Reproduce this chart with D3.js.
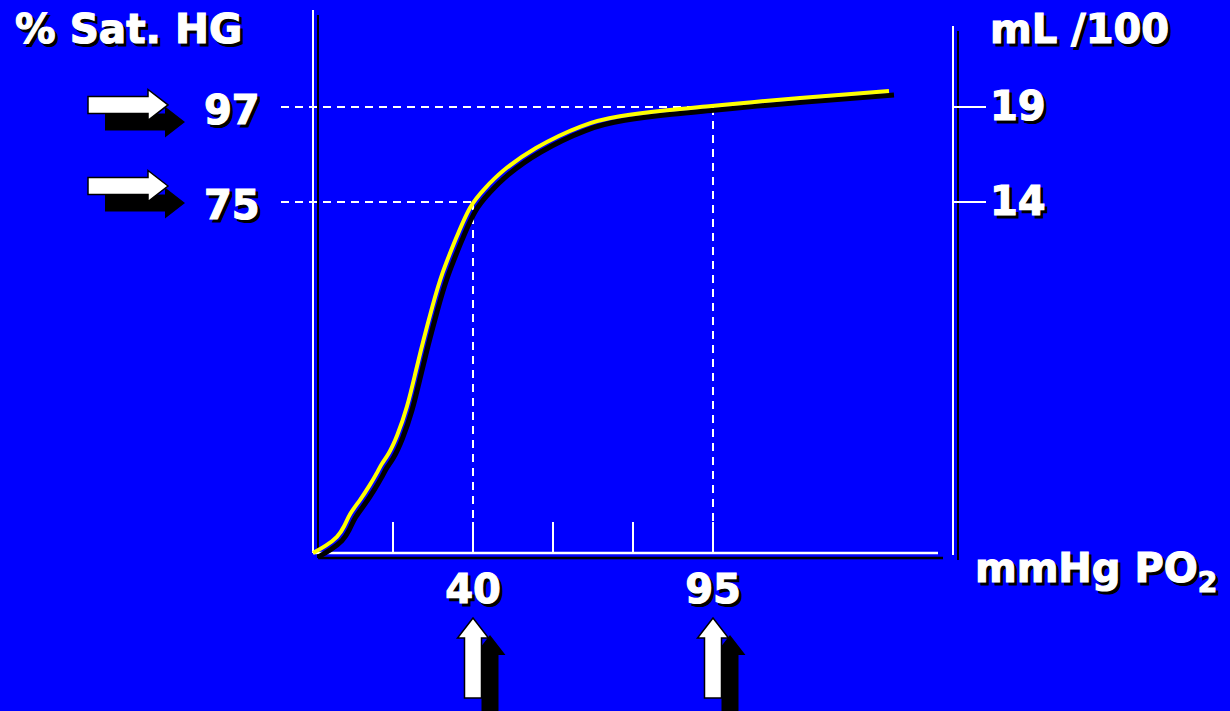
<!DOCTYPE html>
<html lang="en">
    <head>
        <meta charset="utf-8">
        <title>Courbe de dissociation HbO2</title>
        <script type="text/javascript" src="https://d3js.org/d3.v7.min.js"></script>
        <style type="text/css">
            body { margin: 0; background: #0000ff; }
            text {
                font-family: "DejaVu Sans", sans-serif;
                font-weight: bold;
                stroke-width: 1.2px;
            }
        </style>
    </head>
    <body>
        <script type="text/javascript">

        // Size
        var w = 1230;
        var h = 711;

        // Data: PO2 in grid units (one unit per tick), saturation in %
        var curvePO2 = [0, 0.16, 0.31, 0.39, 0.46, 0.59, 0.71, 0.8, 0.86, 0.94, 1.05, 1.18, 1.28, 1.38, 1.49, 1.61, 1.78, 1.96, 2.15, 2.34, 2.75, 3.38, 3.8, 4.43, 5.0, 5.46, 6.09, 6.71, 7.2];
        var curveSat = [0, 1.5, 3.4, 5.6, 8.5, 11.3, 14.5, 17.1, 19.2, 20.9, 24.8, 31.2, 38.5, 45.5, 52.6, 59.8, 66.9, 74.4, 78.2, 81.9, 87.5, 93.1, 94.9, 96.3, 97.2, 98.1, 99.1, 100, 100.7];
        var xTicks = [1, 2, 3, 4, 5];
        var xLabelAt = [2, 5];
        var xLabels = ["40", "95"];
        var satMarks = [97, 75];
        var contentMarks = [19, 14];

        // Scales
        var x = d3.scaleLinear().domain([0, 7.8125]).range([313, 938]);
        var y = d3.scaleLinear().domain([0, 75, 100]).range([553, 202, 94]);
        var yR = d3.scaleLinear().domain([14, 19]).range([y(75), y(97)]);

        var svg = d3.select("body")
                    .append("svg")
                    .attr("width", w)
                    .attr("height", h);

        svg.append("rect")
            .attr("width", w)
            .attr("height", h)
            .attr("fill", "#0000ff");

        // Axes (black shadow then white)
        function axes(g, dx, col) {
            g.append("line")
                .attr("x1", x(0) + dx).attr("x2", x(0) + dx)
                .attr("y1", 10 + dx).attr("y2", y(0) + dx)
                .attr("stroke", col).attr("stroke-width", 2);
            g.append("line")
                .attr("x1", x(0) + dx).attr("x2", x.range()[1] + dx)
                .attr("y1", y(0) + dx).attr("y2", y(0) + dx)
                .attr("stroke", col).attr("stroke-width", 2.5);
            g.append("line")
                .attr("x1", 953 + dx).attr("x2", 953 + dx)
                .attr("y1", 26 + dx).attr("y2", 555 + dx)
                .attr("stroke", col).attr("stroke-width", 2);
        }
        axes(svg.append("g"), 5, "black");
        axes(svg.append("g"), 0, "white");

        // X ticks
        svg.selectAll("line.xt")
            .data(xTicks)
            .enter()
            .append("line")
            .attr("class", "xt")
            .attr("x1", function(d){ return x(d); })
            .attr("x2", function(d){ return x(d); })
            .attr("y1", y(0) - 31)
            .attr("y2", y(0))
            .attr("stroke", "white")
            .attr("stroke-width", 2);

        // Right ticks
        svg.selectAll("line.rt")
            .data(contentMarks)
            .enter()
            .append("line")
            .attr("class", "rt")
            .attr("x1", 953)
            .attr("x2", 986)
            .attr("y1", function(d){ return yR(d); })
            .attr("y2", function(d){ return yR(d); })
            .attr("stroke", "white")
            .attr("stroke-width", 2);

        // Dashed guides
        var guides = [[2, 75], [5, 97]];
        guides.forEach(function(g) {
            svg.append("line")
                .attr("x1", 281).attr("x2", x(g[0]))
                .attr("y1", y(g[1])).attr("y2", y(g[1]))
                .attr("stroke", "white").attr("stroke-width", 2)
                .attr("stroke-dasharray", "8,6");
            svg.append("line")
                .attr("x1", x(g[0])).attr("x2", x(g[0]))
                .attr("y1", y(g[1])).attr("y2", y(0))
                .attr("stroke", "white").attr("stroke-width", 2)
                .attr("stroke-dasharray", "8,6");
        });

        // Curve
        var pts = curvePO2.map(function(d, i){ return [d, curveSat[i]]; });
        var line = d3.line()
                    .x(function(d){ return x(d[0]); })
                    .y(function(d){ return y(d[1]); })
                    .curve(d3.curveBasis);

        svg.append("path")
            .attr("d", line(pts))
            .attr("transform", "translate(5,4)")
            .attr("fill", "none")
            .attr("stroke", "black")
            .attr("stroke-width", 5);
        svg.append("path")
            .attr("d", line(pts))
            .attr("fill", "none")
            .attr("stroke", "#ffff00")
            .attr("stroke-width", 4);

        // Text with black shadow copy
        function label(tx, ty, str, size, anchor, sub) {
            var g = svg.append("g");
            [["black", 3], ["white", 0]].forEach(function(s) {
                var t = g.append("text")
                    .attr("x", tx + s[1])
                    .attr("y", ty + s[1])
                    .attr("font-size", size)
                    .attr("text-anchor", anchor || "start")
                    .attr("fill", s[0])
                    .attr("stroke", s[0])
                    .text(str);
                if (sub) {
                    t.append("tspan")
                        .attr("font-size", 28)
                        .attr("dy", 10)
                        .text(sub);
                }
            });
            return g;
        }

        label(15, 43, "% Sat. HG", 40.5);
        label(990, 43, "mL /100", 40);
        label(975, 582, "mmHg PO", 40, "start", "2");

        satMarks.forEach(function(d) {
            label(204, y(d) + 17, String(d), 40);
        });
        contentMarks.forEach(function(d) {
            label(990, yR(d) + 13, String(d), 40);
        });
        xLabelAt.forEach(function(d, i) {
            label(x(d), 603, xLabels[i], 40, "middle");
        });

        // Arrows
        var arrowPath = "M0,0 L-20,-15.5 L-20,-8.5 L-80,-8.5 L-80,8.5 L-20,8.5 L-20,15.5 Z";
        function arrow(tx, ty, rot) {
            svg.append("path")
                .attr("d", arrowPath)
                .attr("transform", "translate(" + (tx + 17) + "," + (ty + 17) + ") rotate(" + rot + ")")
                .attr("fill", "black");
            svg.append("path")
                .attr("d", arrowPath)
                .attr("transform", "translate(" + tx + "," + ty + ") rotate(" + rot + ")")
                .attr("fill", "white")
                .attr("stroke", "black")
                .attr("stroke-width", 1.5);
        }
        var arrowDy = [-2, -16];
        satMarks.forEach(function(d, i) {
            arrow(168, y(d) + arrowDy[i], 0);
        });
        xLabelAt.forEach(function(d) {
            arrow(x(d), 618, -90);
        });

        </script>
    </body>
</html>
